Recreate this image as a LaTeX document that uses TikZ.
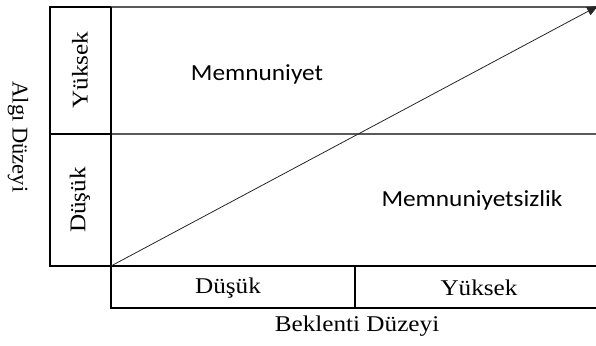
\documentclass[tikz,border=0pt]{standalone}
\usepackage{fontspec}
\setmainfont{Liberation Serif}[FakeStretch=1.12]
\newfontfamily\zonefont{Carlito}[FakeStretch=1.1]
\newfontfamily\axisfont{Liberation Serif}
\usetikzlibrary{positioning, arrows.meta}

\begin{document}
\begin{tikzpicture}[x=1pt, y=-1pt, >={Triangle[length=11pt, width=9pt]},
        frame/.style={line width=1.7pt, black},
        thin line/.style={line width=1.1pt, black!65},
        cell/.style={font=\fontsize{22.5}{24}\selectfont, inner sep=0pt},
        zone/.style={font=\zonefont\fontsize{23}{24}\selectfont, inner sep=0pt}]

        \useasboundingbox (0,0) rectangle (596,345);

        % --- Corners ---
        \coordinate (TL) at (50,7);
        \coordinate (TM) at (111,7);
        \coordinate (TR) at (596,7);
        \coordinate (ML) at (50,134);
        \coordinate (MM) at (111,134);
        \coordinate (MR) at (596,134);
        \coordinate (BL) at (50,266);
        \coordinate (O)  at (111,266);
        \coordinate (BS) at (355,266);
        \coordinate (BR) at (596,266);
        \coordinate (LL) at (111,308);
        \coordinate (LS) at (355,308);
        \coordinate (LR) at (596,308);
        \coordinate (tip) at (598,6);

        % --- Grid ---
        \draw[thin line] (TM) -- (TR);
        \draw[thin line] (MM) -- (MR);
        \draw[frame] (TM) -- (TL) -- (BL) -- (BR);
        \draw[frame] (TM) -- (O);
        \draw[frame] (ML) -- (MM);
        \draw[frame] (O) -- (LL) -- (LR);
        \draw[frame] (BS) -- (LS);

        % --- Diagonal ---
        \draw[->, line width=0.8pt, black!85] (O) -- (tip);

        % --- Row labels ---
        \node[cell, rotate=90] (yuksekL) at (80,70)  {Yüksek};
        \node[cell, rotate=90] (dusukL)  at (80,200) {Düşük};
        \node[font=\axisfont\fontsize{22.5}{24}\selectfont, rotate=-90] (algi) at (18,137) {Algı Düzeyi};

        % --- Column labels ---
        \node[cell] (dusukB)  at (228,288) {Düşük};
        \node[cell] (yuksekB) at (479,288) {Yüksek};
        \node[cell] (beklenti) at (357,326) {Beklenti Düzeyi};

        % --- Zones ---
        \node[zone] (memnun) at (257,74) {Memnuniyet};
        \node[zone] (memnunsiz) at (472,200) {Memnuniyetsizlik};

    \end{tikzpicture}
\end{document}
